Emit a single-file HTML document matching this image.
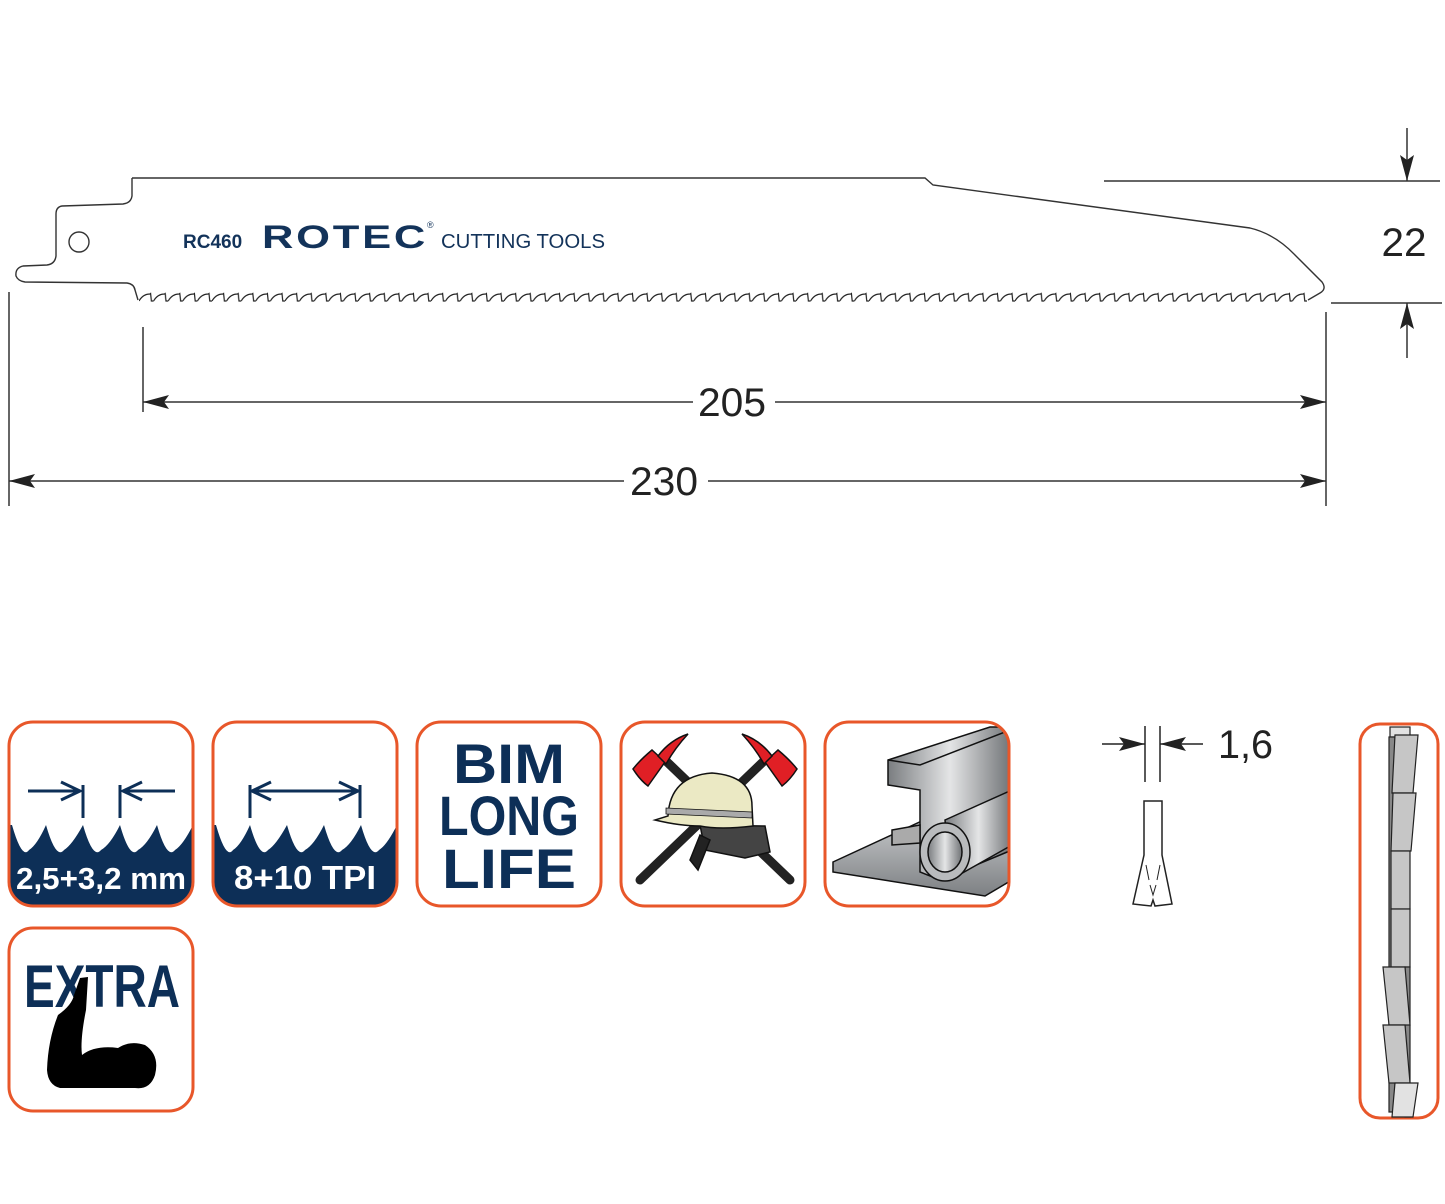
<!DOCTYPE html>
<html><head><meta charset="utf-8"><style>
html,body{margin:0;padding:0;background:#fff;}
svg{display:block;}
text{font-family:"Liberation Sans","DejaVu Sans",sans-serif;}
</style></head><body>
<svg width="1445" height="1204" viewBox="0 0 1445 1204" xmlns="http://www.w3.org/2000/svg">
<defs>
<pattern id="teeth" x="139" y="290" width="14.6" height="14" patternUnits="userSpaceOnUse">
<path d="M0,11 Q4,4 11,4 L11.6,3.5 L12.4,11 L14.6,11" fill="none" stroke="#222" stroke-width="1.2"/>
</pattern>
<marker id="ah" viewBox="0 0 26 14" refX="26" refY="7" markerWidth="26" markerHeight="14" orient="auto-start-reverse" markerUnits="userSpaceOnUse">
<path d="M0,0 L26,7 L0,14 L5,7 Z" fill="#222"/></marker>
<linearGradient id="met" x1="0" x2="1"><stop offset="0" stop-color="#7a7d80"/><stop offset="0.5" stop-color="#e4e5e6"/><stop offset="1" stop-color="#6f7275"/></linearGradient>
<linearGradient id="met2" x1="0" y1="0" x2="0" y2="1"><stop offset="0" stop-color="#d0d2d4"/><stop offset="1" stop-color="#7d8083"/></linearGradient>
</defs>

<!-- blade -->
<path d="M132,178 L925,178 L933,185 L1250,228 Q1275,234 1295,255 L1322,282 Q1327,289 1320,293 L1308,300
M132,178 L132,196 Q131,203 123,204 L62,206 Q56,207 56,214 L56,256 Q55,264 47,265 L23,266 Q15,268 16,276 Q18,281 25,282 L127,283 Q134,284 135,290 L138,300" fill="none" stroke="#333" stroke-width="1.4"/>
<rect x="139" y="290" width="1168" height="14" fill="url(#teeth)"/>
<circle cx="79" cy="242" r="10" fill="none" stroke="#333" stroke-width="1.4"/>
<text x="183" y="248" font-size="19" font-weight="bold" fill="#13335a">RC460</text>
<text x="262" y="248" font-size="32" font-weight="bold" fill="#13335a" letter-spacing="2" textLength="166" lengthAdjust="spacingAndGlyphs">ROTEC</text>
<text x="427" y="228" font-size="9" fill="#13335a">®</text>
<text x="441" y="248" font-size="20" fill="#13335a" textLength="164" lengthAdjust="spacingAndGlyphs">CUTTING TOOLS</text>

<!-- dimensions -->
<g stroke="#333" stroke-width="1.5" fill="none">
<line x1="9" y1="292" x2="9" y2="506"/>
<line x1="1326" y1="312" x2="1326" y2="506"/>
<line x1="143" y1="327" x2="143" y2="412"/>
<line x1="143" y1="402" x2="693" y2="402" marker-start="url(#ah)"/>
<line x1="775" y1="402" x2="1326" y2="402" marker-end="url(#ah)"/>
<line x1="9" y1="481" x2="624" y2="481" marker-start="url(#ah)"/>
<line x1="708" y1="481" x2="1326" y2="481" marker-end="url(#ah)"/>
<line x1="1104" y1="181" x2="1440" y2="181"/>
<line x1="1331" y1="303" x2="1442" y2="303"/>
<line x1="1407" y1="128" x2="1407" y2="181" marker-end="url(#ah)"/>
<line x1="1407" y1="358" x2="1407" y2="303" marker-end="url(#ah)"/>
</g>
<text x="732" y="416" font-size="40" fill="#222" text-anchor="middle" textLength="68" lengthAdjust="spacingAndGlyphs">205</text>
<text x="664" y="495" font-size="40" fill="#222" text-anchor="middle" textLength="68" lengthAdjust="spacingAndGlyphs">230</text>
<text x="1404" y="256" font-size="40" fill="#222" text-anchor="middle" textLength="45" lengthAdjust="spacingAndGlyphs">22</text>

<!-- 1,6 thickness -->
<g stroke="#222" stroke-width="1.5" fill="none">
<line x1="1145" y1="726" x2="1145" y2="782"/>
<line x1="1160" y1="726" x2="1160" y2="782"/>
<line x1="1102" y1="744" x2="1145" y2="744" marker-end="url(#ah)"/>
<line x1="1203" y1="744" x2="1160" y2="744" marker-end="url(#ah)"/>
<path d="M1144,855 L1144,801 L1162,801 L1162,855 L1172,904 L1155,906 L1153,900 L1151,906 L1133,904 Z"/>
<path d="M1146,865 L1149,880 M1160,865 L1157,880 M1150,885 L1153,895 L1156,885" stroke-width="1"/>
</g>
<text x="1218" y="758" font-size="40" fill="#222" textLength="55" lengthAdjust="spacingAndGlyphs">1,6</text>

<!-- side teeth -->
<rect x="1360" y="724" width="78" height="394" rx="20" fill="none" stroke="#e8572a" stroke-width="3"/>
<g stroke="#222" stroke-width="1.2">
<rect x="1390" y="727" width="20" height="10" fill="#e2e2e2"/>
<rect x="1389" y="737" width="6" height="375" fill="#888"/>
<polygon points="1395,735 1418,735 1413,793 1392,793" fill="#c6c6c6"/>
<polygon points="1393,793 1416,793 1411,851 1391,851" fill="#c6c6c6"/>
<rect x="1391" y="851" width="19" height="58" fill="#c6c6c6"/>
<rect x="1391" y="909" width="19" height="58" fill="#c6c6c6"/>
<rect x="1405" y="967" width="5" height="150" fill="#888"/>
<polygon points="1383,967 1405,967 1410,1025 1389,1025" fill="#c6c6c6"/>
<polygon points="1383,1025 1405,1025 1410,1083 1389,1083" fill="#c6c6c6"/>
<polygon points="1395,1083 1418,1083 1413,1117 1392,1117" fill="#e2e2e2"/>
</g>

<!-- icon 1 -->
<g>
<clipPath id="c1"><rect x="9" y="722" width="184" height="184" rx="24"/></clipPath>
<path clip-path="url(#c1)" d="M0,906 L0,825 L12,825 Q22,860 29,850 Q37,845 46,825 Q56,860 64,850 Q72,845 83,825 Q93,860 101,850 Q110,845 120,825 Q130,860 138,850 Q147,845 157,825 Q167,860 175,850 Q183,845 193,825 L200,825 L200,906 Z" fill="#0d2f57"/>
<rect x="9" y="722" width="184" height="184" rx="24" fill="none" stroke="#e8572a" stroke-width="3"/>
<g stroke="#0d2f57" stroke-width="3" fill="none">
<line x1="83" y1="785" x2="83" y2="818"/><line x1="120" y1="785" x2="120" y2="818"/>
<line x1="28" y1="791" x2="80" y2="791"/><line x1="123" y1="791" x2="175" y2="791"/>
<path d="M61,782 L80,791 L61,800"/><path d="M142,782 L123,791 L142,800"/>
</g>
<text x="101" y="889" font-size="31" font-weight="bold" fill="#fff" text-anchor="middle" textLength="170" lengthAdjust="spacingAndGlyphs">2,5+3,2 mm</text>
</g>

<!-- icon 2 -->
<g>
<clipPath id="c2"><rect x="213" y="722" width="184" height="184" rx="24"/></clipPath>
<path clip-path="url(#c2)" d="M200,906 L200,825 L216,825 Q226,860 233,850 Q241,845 250,825 Q260,860 268,850 Q276,845 287,825 Q297,860 305,850 Q314,845 324,825 Q334,860 342,850 Q351,845 361,825 Q371,860 379,850 Q387,845 397,825 L410,825 L410,906 Z" fill="#0d2f57"/>
<rect x="213" y="722" width="184" height="184" rx="24" fill="none" stroke="#e8572a" stroke-width="3"/>
<g stroke="#0d2f57" stroke-width="3" fill="none">
<line x1="250" y1="785" x2="250" y2="818"/><line x1="360" y1="785" x2="360" y2="818"/>
<line x1="252" y1="791" x2="358" y2="791"/>
<path d="M271,782 L252,791 L271,800"/><path d="M339,782 L358,791 L339,800"/>
</g>
<text x="305" y="889" font-size="33" font-weight="bold" fill="#fff" text-anchor="middle" textLength="142" lengthAdjust="spacingAndGlyphs">8+10 TPI</text>
</g>

<!-- icon 3 -->
<rect x="417" y="722" width="184" height="184" rx="24" fill="none" stroke="#e8572a" stroke-width="3"/>
<g font-weight="bold" fill="#0d2f57" text-anchor="middle">
<text x="509" y="783" font-size="56" textLength="112" lengthAdjust="spacingAndGlyphs">BIM</text>
<text x="509" y="835" font-size="56" textLength="140" lengthAdjust="spacingAndGlyphs">LONG</text>
<text x="509" y="888" font-size="56" textLength="134" lengthAdjust="spacingAndGlyphs">LIFE</text>
</g>

<!-- icon 4 -->
<rect x="621" y="722" width="184" height="184" rx="24" fill="none" stroke="#e8572a" stroke-width="3"/>
<g stroke="#111" stroke-width="1.5">
<line x1="665" y1="760" x2="790" y2="880" stroke="#222" stroke-width="9" stroke-linecap="round"/>
<line x1="765" y1="760" x2="640" y2="880" stroke="#222" stroke-width="9" stroke-linecap="round"/>
<path d="M633,769 Q640,760 652,750 L665,762 L648,786 Q640,780 633,769 Z" fill="#e01f25"/>
<path d="M658,756 Q670,740 688,734 Q675,748 666,764 Z" fill="#e01f25"/>
<path d="M797,769 Q790,760 778,750 L765,762 L782,786 Q790,780 797,769 Z" fill="#e01f25"/>
<path d="M772,756 Q760,740 742,734 Q755,748 764,764 Z" fill="#e01f25"/>
<path d="M700,825 L705,850 L745,858 L770,852 L765,826 Z" fill="#444"/>
<path d="M668,816 Q670,776 712,773 Q752,776 752,806 L753,826 Q720,830 700,826 Q680,826 655,820 Z" fill="#ebe9c4"/>
<path d="M666,808 L752,812 L752,818 L666,814 Z" fill="#aaa" stroke-width="0.8"/>
<path d="M690,860 L700,835 L710,840 L698,870 Z" fill="#222"/>
</g>

<!-- icon 5 -->
<g>
<clipPath id="c5"><rect x="825" y="722" width="184" height="184" rx="24"/></clipPath>
<g clip-path="url(#c5)" stroke="#111" stroke-width="1.5">
<path d="M833,862 L950,808 L1012,835 L1012,880 L985,896 L833,872 Z" fill="url(#met2)"/>
<path d="M888,760 L990,727 L1012,727 L1012,850 L940,880 L920,872 L920,790 L888,785 Z" fill="url(#met)"/>
<path d="M888,760 L920,765 L1010,730" fill="none"/>
<path d="M892,830 L920,825 L920,843 L892,845 Z" fill="#aaa"/>
<path d="M945,820 L1012,790 L1012,845 L950,880 Z" fill="url(#met)"/>
<ellipse cx="945" cy="852" rx="25" ry="29" fill="#b9bbbd"/>
<ellipse cx="945" cy="852" rx="17" ry="20" fill="url(#met)"/>
</g>
<rect x="825" y="722" width="184" height="184" rx="24" fill="none" stroke="#e8572a" stroke-width="3"/>
</g>

<!-- icon 6 -->
<rect x="9" y="928" width="184" height="183" rx="24" fill="none" stroke="#e8572a" stroke-width="3"/>
<text x="102" y="1007" font-size="60" font-weight="bold" fill="#0d2f57" text-anchor="middle" textLength="156" lengthAdjust="spacingAndGlyphs">EXTRA</text>
<path d="M80,978 L88,977 L86,1010 Q80,1040 82,1055 Q95,1045 118,1048 Q130,1040 145,1045 Q160,1055 155,1075 Q150,1090 135,1088 L60,1088 Q48,1085 47,1070 Q48,1040 58,1015 Q72,1005 74,995 Z" fill="#000"/>
</svg>
</body></html>
